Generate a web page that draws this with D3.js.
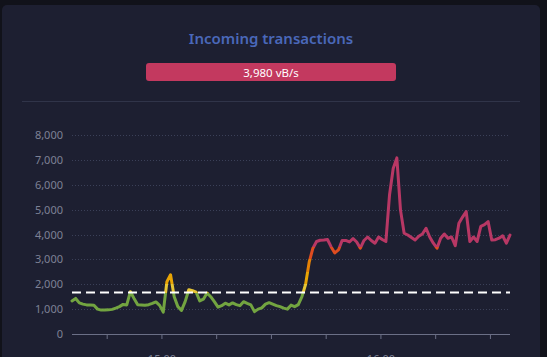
<!DOCTYPE html>
<html><head><meta charset="utf-8">
<script src="https://cdn.jsdelivr.net/npm/d3@7"></script>
<style>
html,body{margin:0;padding:0;background:#11121a;}
svg{display:block;}
</style></head>
<body><svg id="c" width="547" height="357"></svg>
<script>
const title = "Incoming transactions";
const currentLabel = "3,980 vB/s";
const startTime = "2024-01-01T14:35:30";
const values = [
1330,1430,1250,1200,1170,1170,1160,1000,960,960,
970,990,1040,1100,1190,1170,1700,1430,1180,1170,
1160,1180,1230,1290,1150,880,2100,2380,1500,1100,
950,1300,1780,1740,1680,1330,1400,1650,1500,1300,
1080,1140,1240,1170,1250,1180,1140,1300,1230,1170,
900,1000,1050,1200,1260,1200,1140,1100,1040,1000,
1160,1100,1180,1500,2000,2900,3450,3720,3770,3780,
3800,3500,3260,3380,3760,3760,3700,3840,3700,3450,
3760,3900,3760,3650,3900,3800,3720,5600,6650,7080,
4980,4050,3980,3880,3780,3930,4020,4250,3900,3650,
3450,3850,4020,3850,3900,3550,4450,4700,4920,3720,
3900,3720,4330,4400,4520,3780,3790,3850,3950,3650,
3980];
const yTicks = [0,1000,2000,3000,4000,5000,6000,7000,8000];
const limitValue = 1667;
const pieceBounds = [0,1667,2000,2500,3000,3500,8000];
const pieceColors = ["#7CB342","#FDD835","#FFB300","#FB8C00","#F4511E","#C93A6A"];

const svg = d3.select("#c");
svg.append("rect").attr("x",2).attr("y",5).attr("width",538).attr("height",360).attr("rx",5).attr("fill","#1d1f31");

svg.append("text").attr("x",271).attr("y",44).attr("text-anchor","middle")
  .attr("font-family","Noto Sans").attr("font-size",15).attr("font-weight",600)
  .attr("fill","#4a68b9").text(title);

svg.append("rect").attr("x",146).attr("y",63).attr("width",250).attr("height",18).attr("rx",3).attr("fill","#c3395f");
svg.append("text").attr("x",271).attr("y",76.5).attr("text-anchor","middle")
  .attr("font-family","Noto Sans").attr("font-size",11.5).attr("fill","#ffffff").text(currentLabel);

svg.append("line").attr("x1",22).attr("x2",520).attr("y1",101.5).attr("y2",101.5).attr("stroke","#303449").attr("stroke-width",1);

const t0 = d3.isoParse(startTime);
const data = values.map((v,i)=>({t:new Date(t0.getTime()+i*60000), v}));

const x = d3.scaleTime().domain([data[0].t, data[data.length-1].t]).range([72,510]);
const y = d3.scaleLinear().domain([0,8000]).range([334,135]);

svg.append("g").selectAll("line").data(yTicks.slice(1)).join("line")
  .attr("x1",72).attr("x2",510).attr("y1",d=>Math.round(y(d))+0.5).attr("y2",d=>Math.round(y(d))+0.5)
  .attr("stroke","#3b4058").attr("stroke-width",1).attr("stroke-dasharray","1,2");

svg.append("g").selectAll("text").data(yTicks).join("text")
  .attr("x",63).attr("y",d=>y(d)+4).attr("text-anchor","end")
  .attr("font-family","Noto Sans").attr("font-size",11).attr("fill","#7d8195")
  .text(d=>d3.format(",")(d));

const xAxis = d3.axisBottom(x).ticks(d3.timeMinute.every(15)).tickSize(5)
  .tickFormat(d=> (d.getMinutes()===0 ? d3.timeFormat("%H:%M")(d) : ""));
const gx = svg.append("g").attr("transform","translate(0,334)").call(xAxis);
gx.select(".domain").attr("stroke","#6b6f86").attr("d","M72,0.5H510");
gx.selectAll(".tick line").attr("stroke","#6b6f86");
gx.selectAll(".tick text").attr("font-family","Noto Sans").attr("font-size",11).attr("fill","#7d8195").attr("dy","1.9em");

const defs = svg.append("defs");
const grad = defs.append("linearGradient").attr("id","g").attr("gradientUnits","userSpaceOnUse")
  .attr("x1",0).attr("x2",0).attr("y1",y(0)).attr("y2",y(8000));
pieceColors.forEach((c,i)=>{
  grad.append("stop").attr("offset",pieceBounds[i]/8000).attr("stop-color",c);
  grad.append("stop").attr("offset",pieceBounds[i+1]/8000).attr("stop-color",c);
});

const line = d3.line().x(d=>x(d.t)).y(d=>y(d.v));
svg.append("path").datum(data).attr("d",line).attr("fill","none")
  .attr("stroke","url(#g)").attr("stroke-width",3).attr("stroke-linejoin","round").attr("stroke-linecap","round")
  .attr("opacity",0.9);

svg.append("line").attr("x1",72).attr("x2",510).attr("y1",y(limitValue)).attr("y2",y(limitValue))
  .attr("stroke","#ffffff").attr("stroke-width",2).attr("stroke-dasharray","9,5");
</script></body></html>
